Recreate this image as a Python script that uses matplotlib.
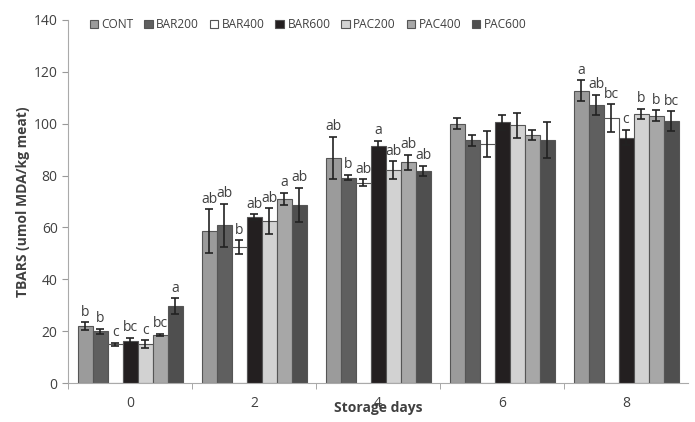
import numpy as np
import matplotlib.pyplot as plt

plt.rcParams['font.family'] = ['Open Sans', 'DejaVu Sans']

days = ['0', '2', '4', '6', '8']
groups = ['CONT', 'BAR200', 'BAR400', 'BAR600', 'PAC200', 'PAC400', 'PAC600']
colors = ['#9b9b9b', '#5f5f5f', '#ffffff', '#231f20', '#d2d2d2', '#a7a7a7', '#4f4f4f']

# mean TBARS per treatment, one list per storage day
means = {
    'CONT':   [22.0, 58.5, 86.9, 100.0, 112.7],
    'BAR200': [20.0, 60.8, 79.2, 93.6, 107.2],
    'BAR400': [15.0, 52.4, 77.2, 92.2, 102.0],
    'BAR600': [16.4, 64.0, 91.5, 100.5, 94.6],
    'PAC200': [15.0, 62.4, 82.0, 99.3, 103.7],
    'PAC400': [18.6, 70.9, 85.1, 95.6, 103.1],
    'PAC600': [29.7, 68.6, 81.8, 93.6, 100.9],
}
errs = {
    'CONT':   [1.5, 8.5, 8.1, 2.2, 4.0],
    'BAR200': [1.0, 8.4, 1.0, 2.2, 3.9],
    'BAR400': [0.6, 2.7, 1.4, 5.0, 5.4],
    'BAR600': [1.0, 1.0, 1.8, 2.8, 3.0],
    'PAC200': [1.5, 5.0, 3.5, 4.7, 2.0],
    'PAC400': [0.4, 2.4, 2.8, 2.0, 2.0],
    'PAC600': [3.0, 6.6, 2.0, 7.0, 3.8],
}
letters = {
    'CONT':   ['b', 'ab', 'ab', '', 'a'],
    'BAR200': ['b', 'ab', 'b', '', 'ab'],
    'BAR400': ['c', 'b', 'ab', '', 'bc'],
    'BAR600': ['bc', 'ab', 'a', '', 'c'],
    'PAC200': ['c', 'ab', 'ab', '', 'b'],
    'PAC400': ['bc', 'a', 'ab', '', 'b'],
    'PAC600': ['a', 'ab', 'ab', '', 'bc'],
}

txt = '#404040'
fig = plt.figure(figsize=(6.95, 4.22), dpi=100)
ax = fig.add_axes([0.098, 0.092, 0.892, 0.861])

x = np.arange(len(days))
w = 0.121
for i, g in enumerate(groups):
    pos = x + (i - 3) * w
    ax.bar(pos, means[g], w, color=colors[i], edgecolor='#555555', linewidth=0.8,
           label=g, zorder=2)
    ax.errorbar(pos, means[g], yerr=errs[g], fmt='none', ecolor='#222222',
                elinewidth=1.2, capsize=3, capthick=1.2, zorder=3)
    for p, m, e, l in zip(pos, means[g], errs[g], letters[g]):
        if l:
            ax.text(p, m + e + 1.0, l, ha='center', va='bottom', fontsize=10, color=txt)

ax.set_xlim(-0.5, 4.5)
ax.set_ylim(0, 140)
ax.set_yticks(range(0, 141, 20))
ax.set_xticks(x)
ax.set_xticklabels(days)
ax.set_xticks(np.arange(-0.5, 4.0, 1.0), minor=True)
ax.tick_params(axis='x', which='major', length=0, pad=9, labelsize=10, labelcolor=txt)
ax.tick_params(axis='x', which='minor', length=4, color='#999999')
ax.tick_params(axis='y', length=4, color='#999999', labelsize=10, labelcolor=txt)

for s in ['top', 'right']:
    ax.spines[s].set_visible(False)
for s in ['left', 'bottom']:
    ax.spines[s].set_color('#aaaaaa')

ax.set_ylabel('TBARS (umol MDA/kg meat)', fontsize=10, fontweight='bold', color=txt, labelpad=3)
ax.set_xlabel('Storage days', fontsize=10, fontweight='bold', color=txt, labelpad=-7)

ax.legend(loc='upper center', bbox_to_anchor=(0.387, 1.035), ncol=7, frameon=False,
          fontsize=8.6, handlelength=0.7, handleheight=0.7, handletextpad=0.3,
          columnspacing=0.9, labelcolor=txt)

fig.savefig('out.png', dpi=100)
